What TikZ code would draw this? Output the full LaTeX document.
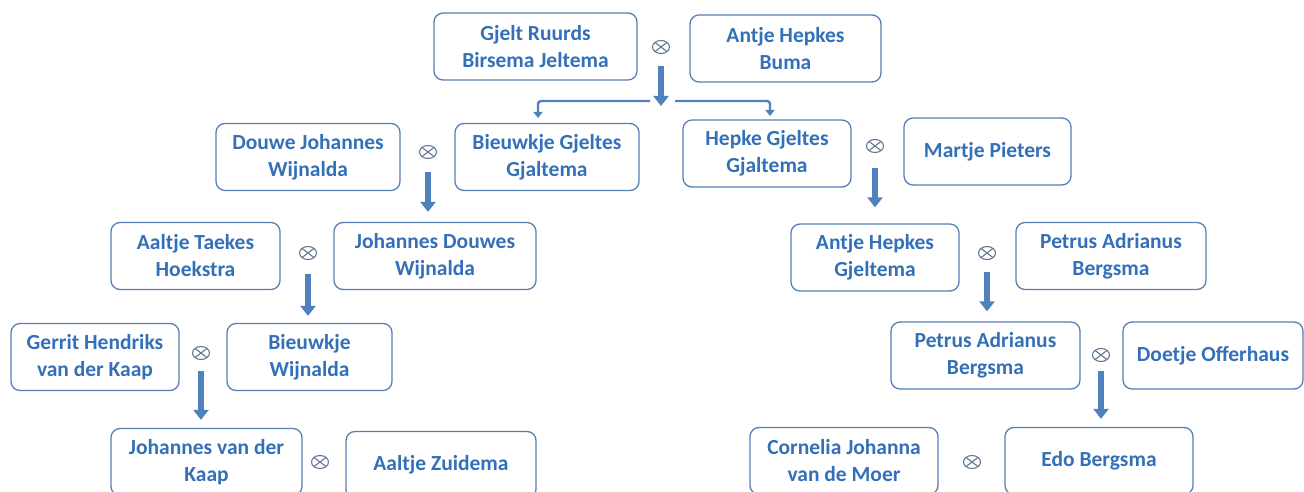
\documentclass[tikz,border=0pt]{standalone}
\usepackage{fontspec}
\setmainfont{Carlito}
\usetikzlibrary{arrows.meta,shapes.geometric}
\definecolor{txtblue}{RGB}{52,112,184}
\definecolor{boxblue}{RGB}{84,128,180}
\definecolor{arrowblue}{RGB}{79,129,189}
\definecolor{otimes}{RGB}{100,118,145}
\tikzset{
  person/.style={draw=boxblue, line width=1.3pt, rounded corners=9pt, fill=white,
    text=txtblue, font=\bfseries\fontsize{21.5}{27}\selectfont, align=center,
    inner sep=0pt, minimum height=67pt},
  marry/.style={ellipse, draw=otimes, line width=1.1pt, minimum width=17pt, minimum height=13pt, inner sep=0pt,
    path picture={\draw[otimes, line width=1.1pt]
      (path picture bounding box.north west) -- (path picture bounding box.south east)
      (path picture bounding box.north east) -- (path picture bounding box.south west);}},
  descent/.style={draw=arrowblue, line width=6pt, -{Triangle[width=15pt,length=10pt]}},
  branch/.style={draw=arrowblue, line width=2.4pt, rounded corners=3pt, -{Triangle[width=9pt,length=6pt]}}
}
\begin{document}
\begin{tikzpicture}[x=1pt,y=-1pt]
\useasboundingbox (0,0) rectangle (1304,492);
\clip (0,0) rectangle (1304,492);
% row 0
\node[person, minimum width=203pt] (g1) at (535.5,46.5) {Gjelt Ruurds\\Birsema Jeltema};
\node[person, minimum width=191pt] (a1) at (785.5,48.5) {Antje Hepkes\\Buma};
\node[marry] (o1) at (661,47) {};
% row 1
\node[person, minimum width=184pt] (d1) at (308,157) {Douwe Johannes\\Wijnalda};
\node[person, minimum width=184pt] (b1) at (547,157) {Bieuwkje Gjeltes\\Gjaltema};
\node[marry] (o2) at (428,152) {};
\node[person, minimum width=168pt] (h1) at (767,153.5) {Hepke Gjeltes\\Gjaltema};
\node[person, minimum width=167pt] (m1) at (987.5,151.5) {Martje Pieters};
\node[marry] (o3) at (875,146) {};
% row 2
\node[person, minimum width=169pt] (at) at (195.5,256) {Aaltje Taekes\\Hoekstra};
\node[person, minimum width=202pt] (jd) at (435,256) {Johannes Douwes\\Wijnalda};
\node[marry] (o4) at (308,253) {};
\node[person, minimum width=168pt] (ah) at (875,257.5) {Antje Hepkes\\Gjeltema};
\node[person, minimum width=190pt] (pa1) at (1111,256) {Petrus Adrianus\\Bergsma};
\node[marry] (o5) at (987,253) {};
% row 3
\node[person, minimum width=168pt] (gh) at (95,357) {Gerrit Hendriks\\van der Kaap};
\node[person, minimum width=165pt] (bw) at (309.5,357) {Bieuwkje\\Wijnalda};
\node[marry] (o6) at (201,353) {};
\node[person, minimum width=189pt] (pa2) at (985.5,355.5) {Petrus Adrianus\\Bergsma};
\node[person, minimum width=180pt] (do) at (1213,355.5) {Doetje Offerhaus};
\node[marry] (o7) at (1101,355) {};
% row 4
\node[person, minimum width=191pt] (jk) at (206.5,462) {Johannes van der\\Kaap};
\node[person, minimum width=190pt] (az) at (441,465) {Aaltje Zuidema};
\node[marry] (o8) at (320,462) {};
\node[person, minimum width=188pt] (cj) at (844,461) {Cornelia Johanna\\van de Moer};
\node[person, minimum width=188pt] (eb) at (1099,461) {Edo Bergsma};
\node[marry] (o9) at (972,462) {};
% connector end points
\coordinate (t1s) at (661,66);
\coordinate (t1e) at (661,106);
\coordinate (brl) at (650,101);
\coordinate (brr) at (675,101);
\coordinate (bre) at (538,118);
\coordinate (bhe) at (770,116);
% arrows
\draw[descent] (t1s) -- (t1e);
\draw[branch] (brl) -- (brl -| bre) -- (bre);
\draw[branch] (brr) -- (brr -| bhe) -- (bhe);
\draw[descent] ([yshift=-20pt]o2.center) -- ([yshift=10pt]o2 |- jd.north);
\draw[descent] ([yshift=-22pt]o3.center) -- ([yshift=16pt]o3 |- ah.north);
\draw[descent] ([yshift=-21pt]o4.center) -- ([yshift=7pt]o4 |- bw.north);
\draw[descent] ([yshift=-19pt]o5.center) -- ([yshift=10pt]o5 |- pa2.north);
\draw[descent] ([yshift=-18pt]o6.center) -- ([yshift=8pt]o6 |- jk.north);
\draw[descent] ([yshift=-16pt]o7.center) -- ([yshift=8pt]o7 |- eb.north);
\end{tikzpicture}
\end{document}
